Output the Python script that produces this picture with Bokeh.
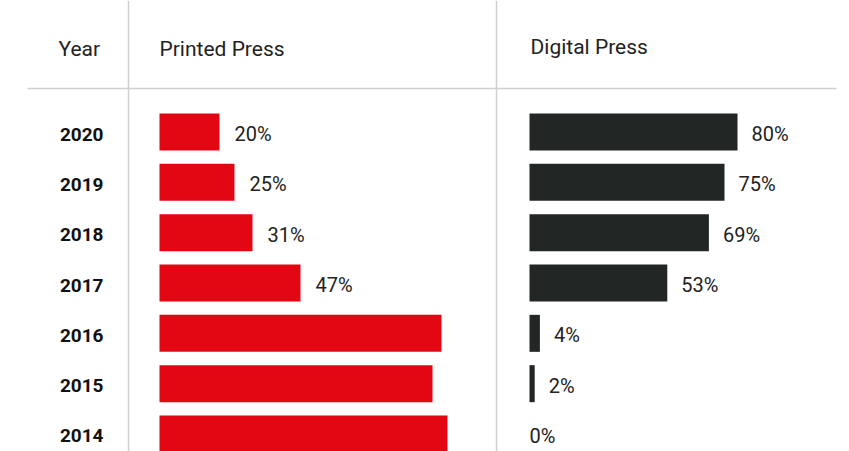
from bokeh.plotting import figure
from bokeh.models import Range1d, ColumnDataSource, Span
from bokeh.core.properties import value
from bokeh.embed import file_html
from bokeh.resources import INLINE

# ---- data ----
years = ["2020", "2019", "2018", "2017", "2016", "2015", "2014"]
printed = [20, 25, 31, 47, 94, 91, 96]
printed_labels = ["20%", "25%", "31%", "47%", "", "", ""]
digital = [80, 75, 69, 53, 4, 2, 0]
digital_labels = ["80%", "75%", "69%", "53%", "4%", "2%", "0%"]
headers = ["Year", "Printed Press", "Digital Press"]

RED = "#e30613"
DARK = "#222624"
GRID = "#cfcfcf"
FONT = "Roboto"

W, H = 849, 451
ROW = 50.33  # px per row
TOP = 131.5  # px from top to first row centre

idx = list(range(len(years)))
src = ColumnDataSource(dict(
    idx=idx, years=years,
    printed=printed, plab=printed_labels,
    digital=digital, dlab=digital_labels,
    doff=[14 if v > 0 else 0 for v in digital],
))

p = figure(width=W, height=H, output_backend="svg", toolbar_location=None,
           x_range=Range1d(0, W),
           y_range=Range1d(6 + 17.5 / ROW, -TOP / ROW),
           min_border=0, x_axis_location=None, y_axis_location=None)
p.grid.visible = False
p.outline_line_color = None
p.background_fill_color = "white"
p.border_fill_color = "white"

# scales for the two bar panels
ps, po = 3.0, 159
ds, do = 2.6, 529
p.extra_x_ranges = {
    "printed": Range1d(-po / ps, (W - po) / ps),
    "digital": Range1d(-do / ds, (W - do) / ds),
}

# table lines
p.add_layout(Span(location=128, dimension="height", line_color=GRID, line_width=1.5))
p.add_layout(Span(location=496, dimension="height", line_color=GRID, line_width=1.5))
hl = -(TOP - 88) / ROW
p.segment(x0=[27], y0=[hl], x1=[836], y1=[hl], line_color=GRID, line_width=1.5)

# headers
hy = -(TOP - 48) / ROW
hdr = dict(text_baseline="middle", text_align="left", text_font=value(FONT),
           text_font_size="21px", text_color="#222222")
p.text(x=[58], y=[hy], text=[headers[0]], **hdr)
p.text(x=[159], y=[hy], text=[headers[1]], **hdr)
p.text(x=[530], y=[hy - 0.02], text=[headers[2]], **hdr)

# year labels
p.text(x=103, y="idx", text="years", source=src, text_align="right", text_baseline="middle",
       y_offset=2, text_font=value(FONT), text_font_style="bold", text_font_size="19px",
       text_color="#111111")

# bars
bh = 37 / ROW
p.hbar(y="idx", left=0, right="printed", height=bh, source=src,
       x_range_name="printed", fill_color=RED, line_color=None)
p.hbar(y="idx", left=0, right="digital", height=bh, source=src,
       x_range_name="digital", fill_color=DARK, line_color=None)

# value labels
lab = dict(text_baseline="middle", text_font=value(FONT), text_font_size="20px",
           text_color="#222222", y_offset=2)
p.text(x="printed", y="idx", text="plab", source=src, x_range_name="printed",
       x_offset=15, **lab)
p.text(x="digital", y="idx", text="dlab", source=src, x_range_name="digital",
       x_offset="doff", **lab)

open("out.html", "w").write(file_html(p, INLINE))
